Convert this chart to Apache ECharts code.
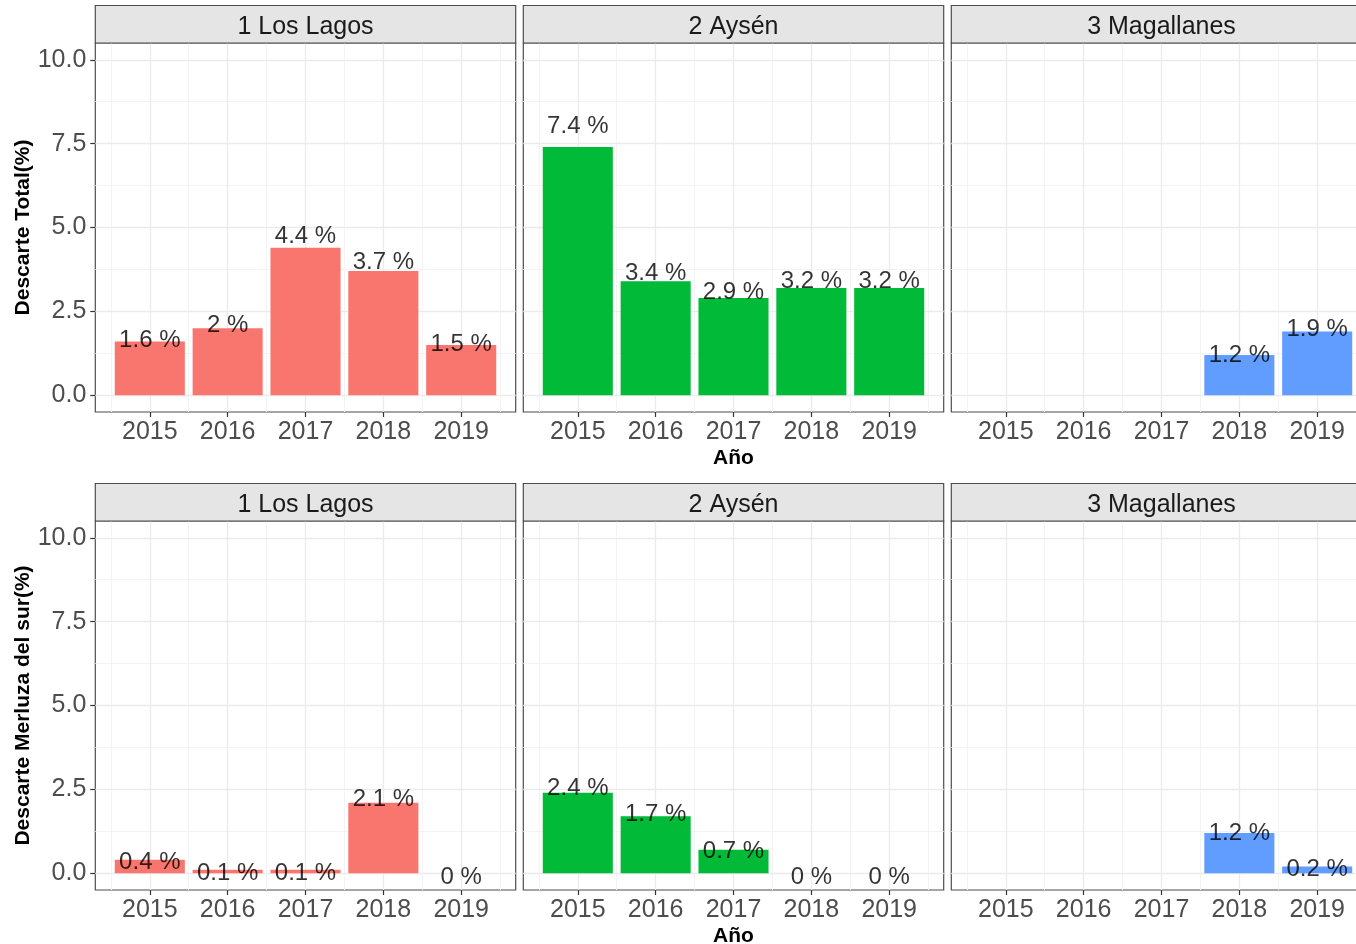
<!DOCTYPE html>
<html>
<head>
<meta charset="utf-8">
<script src="https://cdn.jsdelivr.net/npm/echarts@6/dist/echarts.min.js"></script>
<style>
  html, body { margin: 0; padding: 0; background: #ffffff; overflow: hidden; }
  #chart { width: 1376px; height: 944px; }
</style>
</head>
<body>
<div id="chart"></div>
<script>
// ---- data ----
const years = ['2015', '2016', '2017', '2018', '2019'];
const regions = ['1 Los Lagos', '2 Aysén', '3 Magallanes'];
const rowTitles = ['Descarte Total(%)', 'Descarte Merluza del sur(%)'];
const xTitle = 'Año';

// Descarte total (%) por región y año; null = sin registro
const totalLosLagos   = [1.6, 2, 4.4, 3.7, 1.5];
const totalAysen      = [7.4, 3.4, 2.9, 3.2, 3.2];
const totalMagallanes = [null, null, null, 1.2, 1.9];

// Descarte de merluza del sur (%) por región y año
const merluzaLosLagos   = [0.4, 0.1, 0.1, 2.1, 0];
const merluzaAysen      = [2.4, 1.7, 0.7, 0, 0];
const merluzaMagallanes = [null, null, null, 1.2, 0.2];

const yTicks = [0, 2.5, 5, 7.5, 10];
const yMinorTicks = [1.25, 3.75, 6.25, 8.75];
const xMinorTicks = [0.5, 1.5, 2.5, 3.5, 4.5, 5.5];

const rows = [
  [totalLosLagos, totalAysen, totalMagallanes],
  [merluzaLosLagos, merluzaAysen, merluzaMagallanes]
];

// ---- style / layout ----
const regionColors = ['#F8766D', '#00BA38', '#619CFF'];
const FONT = 'Liberation Sans';
const PANEL_LEFT = [95.3, 523.3, 951.3];
const PANEL_W = 420.4;
const PANEL_TOP = [43, 521];
const PANEL_H = 369;
const STRIP_H = 37.5;
const X_MIN = 0.3, X_MAX = 5.7;
const Y_MIN = -0.5, Y_MAX = 10.5;
const BAR_W = PANEL_W * 0.9 / (X_MAX - X_MIN);

const xCats = years.map((_, i) => i + 1);

const majorLine = { color: '#EBEBEB', width: 1.3, type: 'solid' };
const minorLine = { color: '#F3F3F3', width: 1, type: 'solid' };

function gridLines() {
  const d = [];
  xMinorTicks.forEach(v => d.push({ xAxis: v, lineStyle: minorLine }));
  yMinorTicks.forEach(v => d.push({ yAxis: v, lineStyle: minorLine }));
  xCats.forEach(v => d.push({ xAxis: v, lineStyle: majorLine }));
  yTicks.forEach(v => d.push({ yAxis: v, lineStyle: majorLine }));
  return d;
}

const grid = [], xAxis = [], yAxis = [], series = [], graphic = [];

rows.forEach((rowData, r) => {
  rowData.forEach((values, c) => {
    const k = r * 3 + c;
    grid.push({
      left: PANEL_LEFT[c], top: PANEL_TOP[r], width: PANEL_W, height: PANEL_H,
      outerBoundsMode: 'none', containLabel: false,
      show: true, backgroundColor: '#ffffff', borderColor: '#4D4D4D', borderWidth: 1.2
    });
    xAxis.push({
      type: 'value', gridIndex: k, min: X_MIN, max: X_MAX,
      name: c === 1 ? xTitle : '',
      nameLocation: 'middle', nameGap: 36,
      nameTextStyle: { fontFamily: FONT, fontSize: 21, fontWeight: 'bold', color: '#000' },
      axisLine: { show: false, onZero: false },
      axisTick: { show: true, customValues: xCats, length: 5, lineStyle: { color: '#333333', width: 1.2 } },
      axisLabel: {
        show: true, customValues: xCats, margin: 8,
        formatter: v => years[Math.round(v) - 1],
        fontFamily: FONT, fontSize: 25, color: '#4D4D4D'
      },
      splitLine: { show: false }
    });
    yAxis.push({
      type: 'value', gridIndex: k, min: Y_MIN, max: Y_MAX,
      name: c === 0 ? rowTitles[r] : '',
      nameLocation: 'middle', nameGap: 60, nameRotate: 90,
      nameTextStyle: { fontFamily: FONT, fontSize: 21, fontWeight: 'bold', color: '#000' },
      axisLine: { show: false, onZero: false },
      axisTick: { show: c === 0, customValues: yTicks, length: 5, lineStyle: { color: '#333333', width: 1.2 } },
      axisLabel: {
        show: c === 0, customValues: yTicks, margin: 9,
        formatter: v => v.toFixed(1),
        fontFamily: FONT, fontSize: 25, color: '#4D4D4D'
      },
      splitLine: { show: false }
    });

    const barData = [];
    const labelData = [];
    values.forEach((v, i) => {
      if (v === null) return;
      barData.push([xCats[i], v]);
      labelData.push([xCats[i], v * 1.1, v]);
    });

    series.push({
      type: 'bar', xAxisIndex: k, yAxisIndex: k,
      data: barData, barWidth: BAR_W,
      itemStyle: { color: regionColors[c] },
      z: 2,
      markLine: {
        silent: true, symbol: 'none', z: 1, animation: false,
        label: { show: false }, emphasis: { disabled: true },
        data: gridLines()
      }
    });
    series.push({
      type: 'scatter', xAxisIndex: k, yAxisIndex: k,
      data: labelData, symbolSize: 0, z: 4, silent: true,
      label: {
        show: true, position: 'inside', offset: [0, 4],
        formatter: p => p.value[2] + ' %',
        fontFamily: FONT, fontSize: 24, color: '#000000'
      }
    });

    // facet strip
    graphic.push({
      type: 'rect', z: 10,
      shape: { x: PANEL_LEFT[c], y: PANEL_TOP[r] - STRIP_H, width: PANEL_W, height: STRIP_H },
      style: { fill: '#E5E5E5', stroke: '#4D4D4D', lineWidth: 1.2 }
    });
    graphic.push({
      type: 'text', z: 11,
      x: PANEL_LEFT[c] + PANEL_W / 2, y: PANEL_TOP[r] - STRIP_H / 2 + 3,
      style: {
        text: regions[c], font: '25px "' + FONT + '"', fill: '#1A1A1A',
        align: 'center', verticalAlign: 'middle',
        textAlign: 'center', textVerticalAlign: 'middle'
      }
    });
  });
});

const chart = echarts.init(document.getElementById('chart'), null, { renderer: 'canvas' });
chart.setOption({
  animation: false,
  backgroundColor: '#ffffff',
  grid, xAxis, yAxis, series, graphic
});
</script>
</body>
</html>
